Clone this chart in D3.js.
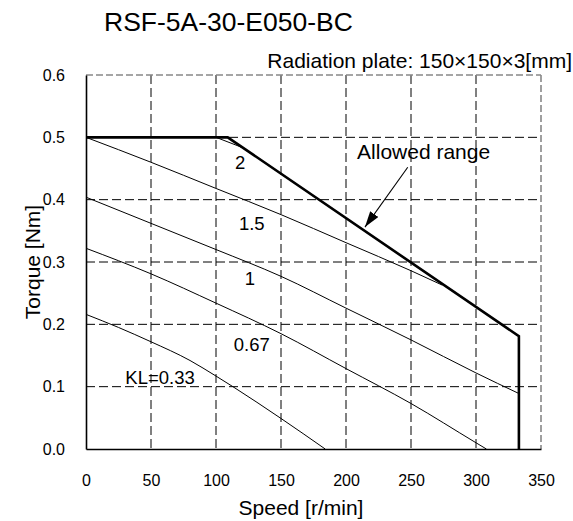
<!DOCTYPE html>
<html>
<head>
<meta charset="utf-8">
<script src="https://cdn.jsdelivr.net/npm/d3@7/dist/d3.min.js"></script>
<style>
  html, body { margin: 0; padding: 0; background: #fff; }
  svg { display: block; font-family: "Liberation Sans", Arial, sans-serif; }
</style>
</head>
<body>
<svg id="chart" width="573" height="521"></svg>
<script>
// Axis ticks
const speedTicks = [0, 50, 100, 150, 200, 250, 300, 350];
const torqueTicks = [0, 0.1, 0.2, 0.3, 0.4, 0.5, 0.6];

// Torque vs speed per load factor KL: [speed r/min, torque Nm]
const kl033 = [[0, 0.216], [25, 0.195], [50, 0.172], [80, 0.142], [100, 0.117], [113, 0.1], [150, 0.049], [184, 0]];
const kl067 = [[0, 0.322], [50, 0.281], [100, 0.234], [150, 0.185], [200, 0.129], [250, 0.073], [300, 0.01], [308, 0]];
const kl1   = [[0, 0.404], [50, 0.362], [100, 0.32], [150, 0.277], [200, 0.226], [250, 0.175], [300, 0.122], [333, 0.089]];
const kl15  = [[0, 0.5], [50, 0.46], [100, 0.418], [150, 0.376], [200, 0.331], [250, 0.286], [274, 0.263]];
const kl2   = [[100, 0.5], [121, 0.483]];

// Boundary of the allowed operating range
const allowed = [[0, 0.5], [109, 0.5], [333, 0.181], [333, 0]];

// Curve labels: text, speed, torque (baseline position)
const curveLabels = [
  ["2", 118.5, 0.45],
  ["1.5", 127.5, 0.352],
  ["1", 126, 0.263],
  ["0.67", 127.5, 0.158],
  ["KL=0.33", 57, 0.105]
];

// "Allowed range" callout: text anchor and arrow from/to
const calloutText = ["Allowed range", 208.5, 0.466];
const calloutArrow = [[247.5, 0.452], [214.6, 0.356]];

const svg = d3.select("#chart");
const plotL = 86, plotR = 541, plotT = 75, plotB = 449;

const x = d3.scaleLinear().domain([0, 350]).range([plotL, plotR]);
const y = d3.scaleLinear().domain([0, 0.6]).range([plotB, plotT]);

// Title and note
svg.append("text").attr("x", 104).attr("y", 31)
  .attr("font-size", 26.5).attr("fill", "#000").text("RSF-5A-30-E050-BC");
svg.append("text").attr("x", 572).attr("y", 68).attr("text-anchor", "end")
  .attr("font-size", 21).attr("fill", "#000").text("Radiation plate: 150×150×3[mm]");

// Dashed grid
const grid = svg.append("g");
grid.selectAll("line.v").data(speedTicks.filter(d => d > 0 && d < 350)).join("line")
  .attr("class", "v")
  .attr("x1", d => x(d)).attr("x2", d => x(d)).attr("y1", plotT).attr("y2", plotB)
  .attr("stroke", "#000").attr("stroke-width", 1).attr("stroke-dasharray", "9,4");
grid.selectAll("line.h").data(torqueTicks.filter(d => d > 0 && d < 0.6)).join("line")
  .attr("class", "h")
  .attr("x1", plotL).attr("x2", plotR).attr("y1", d => y(d)).attr("y2", d => y(d))
  .attr("stroke", "#000").attr("stroke-width", 1).attr("stroke-dasharray", "9,4");

// Top and right frame: gray dashes
svg.append("line").attr("x1", plotL).attr("x2", plotR).attr("y1", plotT).attr("y2", plotT)
  .attr("stroke", "#888").attr("stroke-width", 1.6).attr("stroke-dasharray", "7,3");
svg.append("line").attr("x1", plotR).attr("x2", plotR).attr("y1", plotT).attr("y2", plotB)
  .attr("stroke", "#888").attr("stroke-width", 1.6).attr("stroke-dasharray", "7,3");

// KL curves
const lineSmooth = d3.line().x(d => x(d[0])).y(d => y(d[1])).curve(d3.curveMonotoneX);
const lineStraight = d3.line().x(d => x(d[0])).y(d => y(d[1]));
[kl033, kl067, kl1, kl15].forEach(s => {
  svg.append("path").attr("d", lineSmooth(s)).attr("fill", "none")
    .attr("stroke", "#000").attr("stroke-width", 1);
});
svg.append("path").attr("d", lineStraight(kl2)).attr("fill", "none")
  .attr("stroke", "#000").attr("stroke-width", 1);

// Allowed range boundary
svg.append("path").attr("d", lineStraight(allowed)).attr("fill", "none")
  .attr("stroke", "#000").attr("stroke-width", 2.6).attr("stroke-linejoin", "miter");

// Axes (left and bottom solid lines, labels only)
const xAxis = d3.axisBottom(x).tickValues(speedTicks).tickSize(0).tickPadding(0)
  .tickFormat(d3.format("d"));
const gx = svg.append("g").attr("transform", `translate(0,${plotB})`).call(xAxis);
gx.select(".domain").attr("stroke", "#000").attr("stroke-width", 1.6);
gx.selectAll("text").attr("font-size", 16).attr("font-family", "Liberation Sans, Arial, sans-serif")
  .attr("fill", "#000").attr("dy", null).attr("y", 37);

const yAxis = d3.axisLeft(y).tickValues(torqueTicks).tickSize(0).tickPadding(21)
  .tickFormat(d3.format(".1f"));
const gy = svg.append("g").attr("transform", `translate(${plotL},0)`).call(yAxis);
gy.select(".domain").attr("stroke", "#000").attr("stroke-width", 1.6);
gy.selectAll("text").attr("font-size", 16).attr("font-family", "Liberation Sans, Arial, sans-serif")
  .attr("fill", "#000");

// Axis titles
svg.append("text").attr("x", 301).attr("y", 515).attr("text-anchor", "middle")
  .attr("font-size", 21).attr("fill", "#000").text("Speed [r/min]");
svg.append("text").attr("transform", "translate(40,262) rotate(-90)").attr("text-anchor", "middle")
  .attr("font-size", 21).attr("fill", "#000").text("Torque [Nm]");

// Curve labels
svg.selectAll("text.kl").data(curveLabels).join("text")
  .attr("class", "kl")
  .attr("x", d => x(d[1])).attr("y", d => y(d[2]))
  .attr("text-anchor", "middle").attr("font-size", 18.5).attr("fill", "#000")
  .text(d => d[0]);

// Callout
svg.append("text").attr("x", x(calloutText[1])).attr("y", y(calloutText[2]))
  .attr("font-size", 21).attr("fill", "#000").text(calloutText[0]);
svg.append("defs").append("marker").attr("id", "arrow")
  .attr("viewBox", "0 0 16 10").attr("refX", 16).attr("refY", 5)
  .attr("markerWidth", 16).attr("markerHeight", 10).attr("markerUnits", "userSpaceOnUse")
  .attr("orient", "auto")
  .append("path").attr("d", "M0,0 L16,5 L0,10 Z").attr("fill", "#000");
svg.append("line")
  .attr("x1", x(calloutArrow[0][0])).attr("y1", y(calloutArrow[0][1]))
  .attr("x2", x(calloutArrow[1][0])).attr("y2", y(calloutArrow[1][1]))
  .attr("stroke", "#000").attr("stroke-width", 1.1).attr("marker-end", "url(#arrow)");
</script>
</body>
</html>
